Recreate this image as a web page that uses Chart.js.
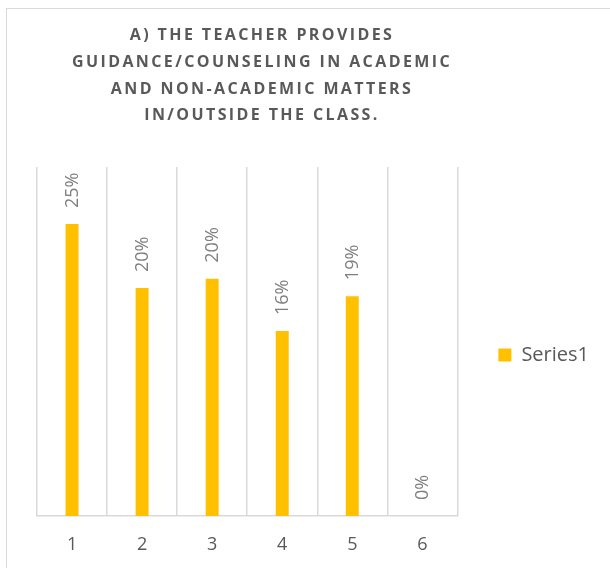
<!DOCTYPE html>
<html>
<head>
<meta charset="utf-8">
<script src="https://cdn.jsdelivr.net/npm/chart.js@4/dist/chart.umd.min.js"></script>
<style>
  html, body { margin: 0; padding: 0; background: #ffffff; }
  #frame { position: absolute; left: 6px; top: 8px; width: 640px; height: 600px; border: 1px solid #d9d9d9; box-sizing: border-box; }
  #wrap { position: absolute; left: 0; top: 0; width: 610px; height: 568px; }
</style>
</head>
<body>
<div id="frame"></div>
<div id="wrap"><canvas id="c" width="610" height="568"></canvas></div>
<script>
const titleLines = [
  "A) THE TEACHER PROVIDES",
  "GUIDANCE/COUNSELING IN ACADEMIC",
  "AND NON-ACADEMIC MATTERS",
  "IN/OUTSIDE THE CLASS."
];
const categories = ["1", "2", "3", "4", "5", "6"];
const seriesName = "Series1";
const seriesValues = [0.251, 0.196, 0.204, 0.159, 0.189, 0.0];
const axisMax = 0.30;

const titlePlugin = {
  id: 'spacedTitle',
  afterDraw(chart) {
    const ctx = chart.ctx;
    ctx.save();
    ctx.font = 'bold 16px "Open Sans"';
    ctx.fillStyle = '#595959';
    ctx.textAlign = 'center';
    ctx.textBaseline = 'alphabetic';
    ctx.letterSpacing = '2.4px';
    const cx = 262;
    titleLines.forEach((line, i) => {
      ctx.fillText(line, cx, 40 + i * 26.8);
    });
    ctx.restore();
  }
};

const labelPlugin = {
  id: 'rotatedLabels',
  afterDatasetsDraw(chart) {
    const ctx = chart.ctx;
    const meta = chart.getDatasetMeta(0);
    ctx.save();
    ctx.font = '18px "Open Sans"';
    ctx.fillStyle = '#7f7f7f';
    ctx.textAlign = 'left';
    ctx.textBaseline = 'middle';
    meta.data.forEach((bar, i) => {
      const txt = Math.round(seriesValues[i] * 100) + '%';
      ctx.save();
      ctx.translate(bar.x, bar.y - 16);
      ctx.rotate(-Math.PI / 2);
      ctx.fillText(txt, 0, 1);
      ctx.restore();
    });
    ctx.restore();
  }
};

new Chart(document.getElementById('c'), {
  type: 'bar',
  data: {
    labels: categories,
    datasets: [{
      label: seriesName,
      data: seriesValues,
      backgroundColor: '#FFC000',
      borderWidth: 0,
      barPercentage: 0.185,
      categoryPercentage: 1.0,
      xAxisID: 'x',
      yAxisID: 'y'
    }]
  },
  options: {
    responsive: false,
    animation: false,
    devicePixelRatio: 1,
    layout: { padding: { left: 37, top: 142, right: 11, bottom: 0 } },
    plugins: {
      title: { display: false },
      tooltip: { enabled: false },
      legend: {
        position: 'right',
        align: 'center',
        labels: {
          boxWidth: 13,
          boxHeight: 13,
          padding: 10,
          color: '#595959',
          font: { family: '"Open Sans"', size: 20 }
        }
      }
    },
    scales: {
      x: {
        grid: { display: true, offset: true, color: '#d9d9d9', lineWidth: 1.5, drawTicks: false },
        border: { display: true, color: '#d9d9d9', width: 1.5 },
        ticks: { color: '#595959', font: { family: '"Open Sans"', size: 18 }, padding: 18 },
        afterFit(s) { s.height = 52; }
      },
      xTop: {
        type: 'category',
        position: 'top',
        grid: { display: false },
        border: { display: false },
        ticks: { display: false },
        afterFit(s) { s.height = 25; }
      },
      y: {
        position: 'right',
        min: 0,
        max: axisMax,
        grid: { display: false },
        border: { display: false },
        ticks: { display: false },
        afterFit(s) { s.width = 31; }
      }
    }
  },
  plugins: [titlePlugin, labelPlugin]
});
</script>
</body>
</html>
